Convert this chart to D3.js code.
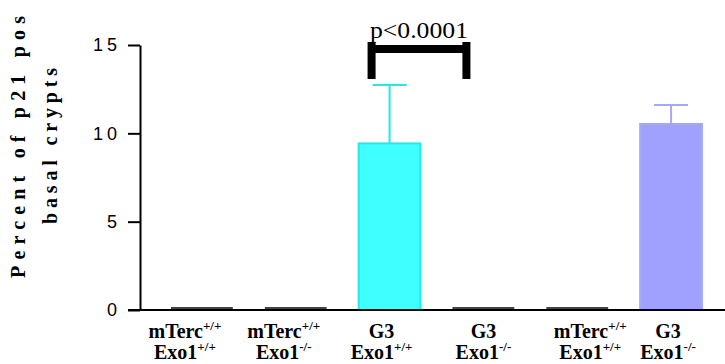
<!DOCTYPE html>
<html lang="en">
    <head>
        <meta charset="utf-8">
        <title>p21 positive basal crypts</title>
        <script type="text/javascript" src="https://d3js.org/d3.v7.min.js"></script>
        <style type="text/css">
            body{
                margin: 0;
                background-color: white;
            }
        </style>
    </head>
    <body>
        <script type="text/javascript">

        //DATA
        const genotypes = ["mTerc", "mTerc", "G3", "G3", "mTerc", "G3"];
        const genoSup = ["+/+", "+/+", "", "", "+/+", ""];
        const exoSup = ["+/+", "-/-", "+/+", "-/-", "+/+", "-/-"];
        const means = [0, 0, 9.43, 0, 0, 10.53];
        const sems = [0, 0, 3.3, 0, 0, 1.07];
        const yTicks = [0, 5, 10, 15];
        const pLabel = "p<0.0001";

        //colors per bar (zero bars only show a dark line)
        const fills = ["#444", "#444", "#40ffff", "#444", "#444", "#a0a0ff"];
        const strokes = ["#444", "#444", "#22eaea", "#444", "#444", "#a6a6ff"];
        //small shifts of the labels seen in the original
        const labelShift = [-17, -12, -8, 0, 13, -3];

        const width = 725;
        const height = 364;
        const axisX = 140;
        const baseY = 310;

        const ids = means.map((d, i) => i);

        //SCALES
        const xScale = d3.scaleBand()
                        .domain(ids)
                        .range([155, 718])
                        .paddingInner(0.32)
                        .paddingOuter(0.16);

        const yScale = d3.scaleLinear()
                        .domain([0, 15])
                        .range([baseY, 45]);

        //SVG
        const svg = d3.select("body")
                    .append("svg")
                    .attr("width", width)
                    .attr("height", height);

        //BARS
        svg.selectAll("rect.bar")
            .data(ids.filter(i => means[i] > 0))
            .enter()
            .append("rect")
            .attr("class", "bar")
            .attr("x", i => xScale(i) + 1)
            .attr("y", i => yScale(means[i]))
            .attr("width", xScale.bandwidth() - 2)
            .attr("height", i => yScale(0) - yScale(means[i]))
            .attr("fill", i => fills[i])
            .attr("stroke", i => strokes[i])
            .attr("stroke-width", 2);

        //ERROR BARS (upper only)
        const errs = ids.filter(i => sems[i] > 0);
        svg.selectAll("line.stem")
            .data(errs)
            .enter()
            .append("line")
            .attr("x1", i => xScale(i) + xScale.bandwidth() / 2)
            .attr("x2", i => xScale(i) + xScale.bandwidth() / 2)
            .attr("y1", i => yScale(means[i]))
            .attr("y2", i => yScale(means[i] + sems[i]))
            .attr("stroke", i => strokes[i])
            .attr("stroke-width", 2);
        svg.selectAll("line.cap")
            .data(errs)
            .enter()
            .append("line")
            .attr("x1", i => xScale(i) + xScale.bandwidth() / 2 - 17)
            .attr("x2", i => xScale(i) + xScale.bandwidth() / 2 + 17)
            .attr("y1", i => yScale(means[i] + sems[i]))
            .attr("y2", i => yScale(means[i] + sems[i]))
            .attr("stroke", i => strokes[i])
            .attr("stroke-width", 2);

        //AXES
        const leftAxis = d3.axisLeft(yScale)
                           .tickValues(yTicks)
                           .tickSize(12)
                           .tickSizeOuter(0)
                           .tickPadding(7);
        const gy = svg.append("g")
            .attr("transform", "translate(" + axisX + ",0)")
            .call(leftAxis);
        gy.select(".domain").attr("stroke-width", 2);
        gy.selectAll(".tick line").attr("stroke-width", 2);
        gy.selectAll(".tick text")
            .attr("font-family", "Liberation Sans, Arial, sans-serif")
            .attr("font-size", 18)
            .attr("letter-spacing", 4)
            .attr("fill", "#000");

        //x axis line
        svg.append("line")
            .attr("x1", axisX - 12)
            .attr("x2", width)
            .attr("y1", baseY)
            .attr("y2", baseY)
            .attr("stroke", "#000")
            .attr("stroke-width", 2);

        //zero-height bars drawn as dark lines on the axis
        svg.selectAll("line.zero")
            .data(ids.filter(i => means[i] === 0))
            .enter()
            .append("line")
            .attr("x1", i => xScale(i) + 1)
            .attr("x2", i => xScale(i) + xScale.bandwidth() - 1)
            .attr("y1", i => yScale(means[i]) - 2)
            .attr("y2", i => yScale(means[i]) - 2)
            .attr("stroke", i => fills[i])
            .attr("stroke-width", 2);

        //CATEGORY LABELS
        const serif = "Liberation Serif, Times New Roman, serif";
        const line1 = svg.selectAll("text.l1")
            .data(ids)
            .enter()
            .append("text")
            .attr("x", i => xScale(i) + xScale.bandwidth() / 2 + labelShift[i])
            .attr("y", 338)
            .attr("text-anchor", "middle")
            .attr("font-family", serif)
            .attr("font-weight", "bold")
            .attr("font-size", 20);
        line1.append("tspan").text(i => genotypes[i]);
        line1.append("tspan")
            .attr("dy", -8)
            .attr("font-size", 13)
            .text(i => genoSup[i]);

        const line2 = svg.selectAll("text.l2")
            .data(ids)
            .enter()
            .append("text")
            .attr("x", i => xScale(i) + xScale.bandwidth() / 2 + labelShift[i])
            .attr("y", 359)
            .attr("text-anchor", "middle")
            .attr("font-family", serif)
            .attr("font-weight", "bold")
            .attr("font-size", 20);
        line2.append("tspan").text("Exo1");
        line2.append("tspan")
            .attr("dy", -8)
            .attr("font-size", 13)
            .text(i => exoSup[i]);

        //Y TITLE
        svg.append("text")
            .attr("transform", "translate(25,147) rotate(-90)")
            .attr("text-anchor", "middle")
            .attr("font-family", serif)
            .attr("font-weight", "bold")
            .attr("font-size", 20)
            .attr("textLength", 262)
            .attr("lengthAdjust", "spacing")
            .text("Percent of p21 pos");
        svg.append("text")
            .attr("transform", "translate(57,146) rotate(-90)")
            .attr("text-anchor", "middle")
            .attr("font-family", serif)
            .attr("font-weight", "bold")
            .attr("font-size", 20)
            .attr("textLength", 156)
            .attr("lengthAdjust", "spacing")
            .text("basal crypts");

        //SIGNIFICANCE BRACKET between bar 3 and bar 4
        const bx1 = xScale(2) + xScale.bandwidth() / 2 - 18;
        const bx2 = xScale(3) + xScale.bandwidth() / 2 - 17;
        const bTop = yScale(15) - 3;
        svg.append("path")
            .attr("d", "M" + bx1 + "," + (bTop + 37) + "V" + bTop + "M" + bx2 + "," + (bTop + 37) + "V" + bTop
                 + "M" + bx1 + "," + (bTop + 7) + "H" + bx2)
            .attr("stroke", "#000")
            .attr("stroke-width", 8)
            .attr("fill", "none");
        svg.append("text")
            .attr("x", (bx1 + bx2) / 2)
            .attr("y", 38)
            .attr("text-anchor", "middle")
            .attr("font-family", serif)
            .attr("font-size", 23)
            .attr("textLength", 98)
            .attr("lengthAdjust", "spacingAndGlyphs")
            .text(pLabel);

        </script>
    </body>
</html>
